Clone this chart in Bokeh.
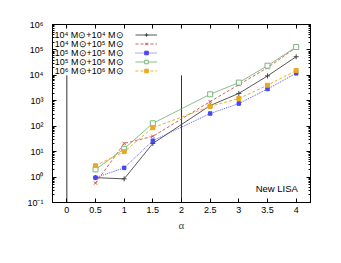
from bokeh.plotting import figure
from bokeh.models import (Range1d, LinearAxis, LogAxis, FixedTicker, Legend, LegendItem,
                          Label)
from bokeh.core.properties import value
from bokeh.embed import file_html
from bokeh.resources import INLINE

# ---- data ----
alpha = [0.5, 1.0, 1.5, 2.5, 3.0, 3.5, 4.0]
s_44 = [0.95, 0.85, 21, 650, 1950, 9500, 54000]        # 10^4+10^4
s_45 = [0.58, 21, 40, 930, 4300, 20000, 125000]        # 10^4+10^5
s_55 = [0.95, 2.3, 27, 315, 780, 2900, 12000]          # 10^5+10^5
s_56 = [2.0, 13, 130, 1800, 5200, 24000, 130000]       # 10^5+10^6
s_66 = [2.8, 10, 87, 600, 1230, 4100, 15500]           # 10^6+10^6
labels = ["10⁴ M⊙+10⁴ M⊙", "10⁴ M⊙+10⁵ M⊙", "10⁵ M⊙+10⁵ M⊙",
          "10⁵ M⊙+10⁶ M⊙", "10⁶ M⊙+10⁶ M⊙"]
vline_x = [0, 2]
vline_bottom = [0.1, 0.1]
vline_top = [1e4, 1e4]
x_ticks = [0, 0.5, 1, 1.5, 2, 2.5, 3, 3.5, 4]
x_tick_labels = ["0", "0.5", "1", "1.5", "2", "2.5", "3", "3.5", "4"]
y_exps = [-1, 0, 1, 2, 3, 4, 5, 6]
sup = {"-": "⁻", "0": "⁰", "1": "¹", "2": "²", "3": "³", "4": "⁴", "5": "⁵", "6": "⁶"}

FONT = "Liberation Sans"

p = figure(width=325, height=247, output_backend="svg", toolbar_location=None,
           y_axis_type="log", x_range=Range1d(-0.25, 4.25), y_range=Range1d(0.1, 1e6),
           min_border_left=52, min_border_right=15, min_border_top=24, min_border_bottom=45)
p.background_fill_color = "white"
p.border_fill_color = "white"
p.outline_line_color = "black"
p.outline_line_width = 1
p.xgrid.visible = False
p.ygrid.visible = False

y_ticks = [10.0 ** e for e in y_exps]
y_minor = [m * 10.0 ** e for e in y_exps[:-1] for m in range(2, 10)]
y_over = {10.0 ** e: "10" + "".join(sup[c] for c in str(e)) for e in y_exps}
x_over = {t: l for t, l in zip(x_ticks, x_tick_labels)}

def style_axis(ax, labels_on=True):
    ax.axis_line_color = "black"
    ax.major_tick_in = 4
    ax.major_tick_out = 0
    ax.minor_tick_in = 2
    ax.minor_tick_out = 0
    ax.major_tick_line_color = "black"
    ax.minor_tick_line_color = "black"
    ax.major_label_text_font = FONT
    ax.major_label_text_font_size = "9px"
    ax.major_label_text_color = "black"
    if not labels_on:
        ax.major_label_text_font_size = "2px"
        ax.major_label_text_color = None
        ax.major_label_standoff = 0

xa = p.xaxis[0]
xa.ticker = FixedTicker(ticks=x_ticks)
xa.major_label_overrides = x_over
style_axis(xa)
xa.major_label_standoff = 4
xa.axis_label = "α"
xa.axis_label_text_font = "Liberation Serif"
xa.axis_label_text_font_style = "normal"
xa.axis_label_text_font_size = "11px"
xa.axis_label_standoff = 3

ya = p.yaxis[0]
ya.ticker = FixedTicker(ticks=y_ticks, minor_ticks=y_minor)
ya.major_label_overrides = y_over
style_axis(ya)
ya.major_label_standoff = 9

top = LinearAxis(ticker=FixedTicker(ticks=x_ticks))
style_axis(top, labels_on=False)
p.add_layout(top, "above")
right = LogAxis(ticker=FixedTicker(ticks=y_ticks, minor_ticks=y_minor))
style_axis(right, labels_on=False)
p.add_layout(right, "right")

# vertical reference lines
p.segment(x0=vline_x, y0=vline_bottom, x1=vline_x, y1=vline_top,
          line_color="#333333", line_width=1)

specs = [
    (s_44, "#444444", "solid", "cross", 5, True),
    (s_45, "#c85050", "dashed", "x", 4.5, True),
    (s_55, "#4848f0", "dotted", "square", 3.5, True),
    (s_56, "#78b878", "solid", "square", 5, False),
    (s_66, "#e8a820", "dashed", "square", 4, True),
]
dash_map = {"solid": "solid", "dashed": "3 2", "dotted": "1 1"}
items = []
for ys, col, dash, mk, sz, filled in specs:
    r1 = p.line(alpha, ys, line_color=col, line_width=0.9, line_dash=dash_map[dash])
    if filled:
        r2 = p.scatter(alpha, ys, marker=mk, size=sz, line_color=col, fill_color=col,
                       line_width=1)
    else:
        r2 = p.scatter(alpha, ys, marker=mk, size=sz, line_color=col, fill_color="white",
                       line_width=1)
    items.append(LegendItem(label=value(" "), renderers=[r1, r2]))

leg = Legend(items=items, location=(83, 127), orientation="vertical",
             glyph_width=22, glyph_height=9, label_width=1, label_height=9,
             label_standoff=0, spacing=0, padding=0, margin=0,
             label_text_font_size="2px", label_text_color=None,
             border_line_color=None, background_fill_alpha=0)
p.add_layout(leg, "center")

# legend texts (right-aligned, left of sample)
for i, lab in enumerate(labels):
    p.add_layout(Label(x=71, y=167.5 - i * 9, x_units="screen", y_units="screen",
                       text=lab, text_align="right", text_baseline="middle",
                       text_font=FONT, text_font_size="9px", text_color="black"))

p.add_layout(Label(x=4.03, y=0.35, text="New LISA", text_align="right",
                   text_baseline="alphabetic", text_font=FONT, text_font_size="9.5px",
                   text_color="black"))

open("out.html", "w").write(file_html(p, INLINE))
